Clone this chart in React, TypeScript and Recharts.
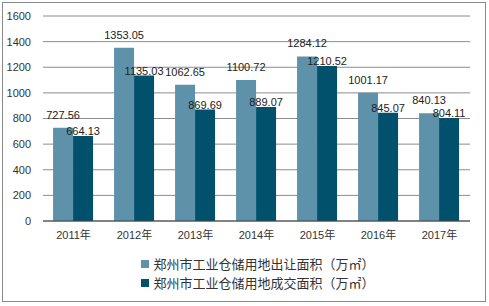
import React from "react";
import {
  BarChart,
  Bar,
  XAxis,
  YAxis,
  CartesianGrid,
  Legend,
  LabelList,
} from "recharts";

const years = ["2011年", "2012年", "2013年", "2014年", "2015年", "2016年", "2017年"];
const transferArea = [727.56, 1353.05, 1062.65, 1100.72, 1284.12, 1001.17, 840.13];
const dealArea = [664.13, 1135.03, 869.69, 889.07, 1210.52, 845.07, 804.11];
const yTicks = [0, 200, 400, 600, 800, 1000, 1200, 1400, 1600];

const seriesNames = [
  "郑州市工业仓储用地出让面积（万㎡）",
  "郑州市工业仓储用地成交面积（万㎡）",
];

const data = years.map((year, i) => ({
  year,
  transfer: transferArea[i],
  deal: dealArea[i],
}));

const LIGHT = "#5e92aa";
const DARK = "#01516d";
const FONT = "'Liberation Sans', 'Noto Sans CJK SC', sans-serif";

function LegendBox() {
  const items = [
    { name: seriesNames[0], color: LIGHT },
    { name: seriesNames[1], color: DARK },
  ];
  return (
    <div style={{ height: 50, display: "flex", flexDirection: "column", alignItems: "center", paddingTop: 5, boxSizing: "border-box" }}>
      <div style={{ marginLeft: 46 }}>
        {items.map((it) => (
          <div key={it.name} style={{ display: "flex", alignItems: "center", height: 19, fontSize: 13, color: "#333", fontFamily: FONT }}>
            <span style={{ width: 8, height: 8, background: it.color, marginRight: 4, display: "inline-block" }} />
            {it.name}
          </div>
        ))}
      </div>
    </div>
  );
}

export default function App() {
  return (
    <div style={{ position: "absolute", left: 0, top: 0, width: 489, height: 306, background: "#fff" }}>
      <div
        style={{
          position: "absolute",
          left: 2,
          top: 2,
          width: 482,
          height: 298,
          border: "1px solid #8a8a8a",
          pointerEvents: "none",
        }}
      />
      <BarChart
        width={489}
        height={306}
        data={data}
        margin={{ top: 16, right: 19, bottom: 7, left: 0 }}
        barGap={0}
        barCategoryGap="16.5%"
        style={{ fontFamily: FONT }}
      >
        <CartesianGrid vertical={false} stroke="#8c8c8c" />
        <XAxis
          dataKey="year"
          height={28}
          tickLine={false}
          axisLine={{ stroke: "#404040" }}
          tick={{ fill: "#333", fontSize: 11, dy: 2 }}
          interval={0}
        />
        <YAxis
          width={43}
          domain={[0, 1600]}
          ticks={yTicks}
          axisLine={false}
          tickLine={false}
          tickMargin={6}
          tick={{ fill: "#333", fontSize: 11 }}
        />
        <Legend verticalAlign="bottom" height={50} content={() => <LegendBox />} />
        <Bar dataKey="transfer" name={seriesNames[0]} fill={LIGHT} isAnimationActive={false}>
          <LabelList dataKey="transfer" position="top" offset={9} fill="#222" fontSize={11} />
        </Bar>
        <Bar dataKey="deal" name={seriesNames[1]} fill={DARK} isAnimationActive={false}>
          <LabelList dataKey="deal" position="top" offset={1} fill="#222" fontSize={11} />
        </Bar>
      </BarChart>
    </div>
  );
}
